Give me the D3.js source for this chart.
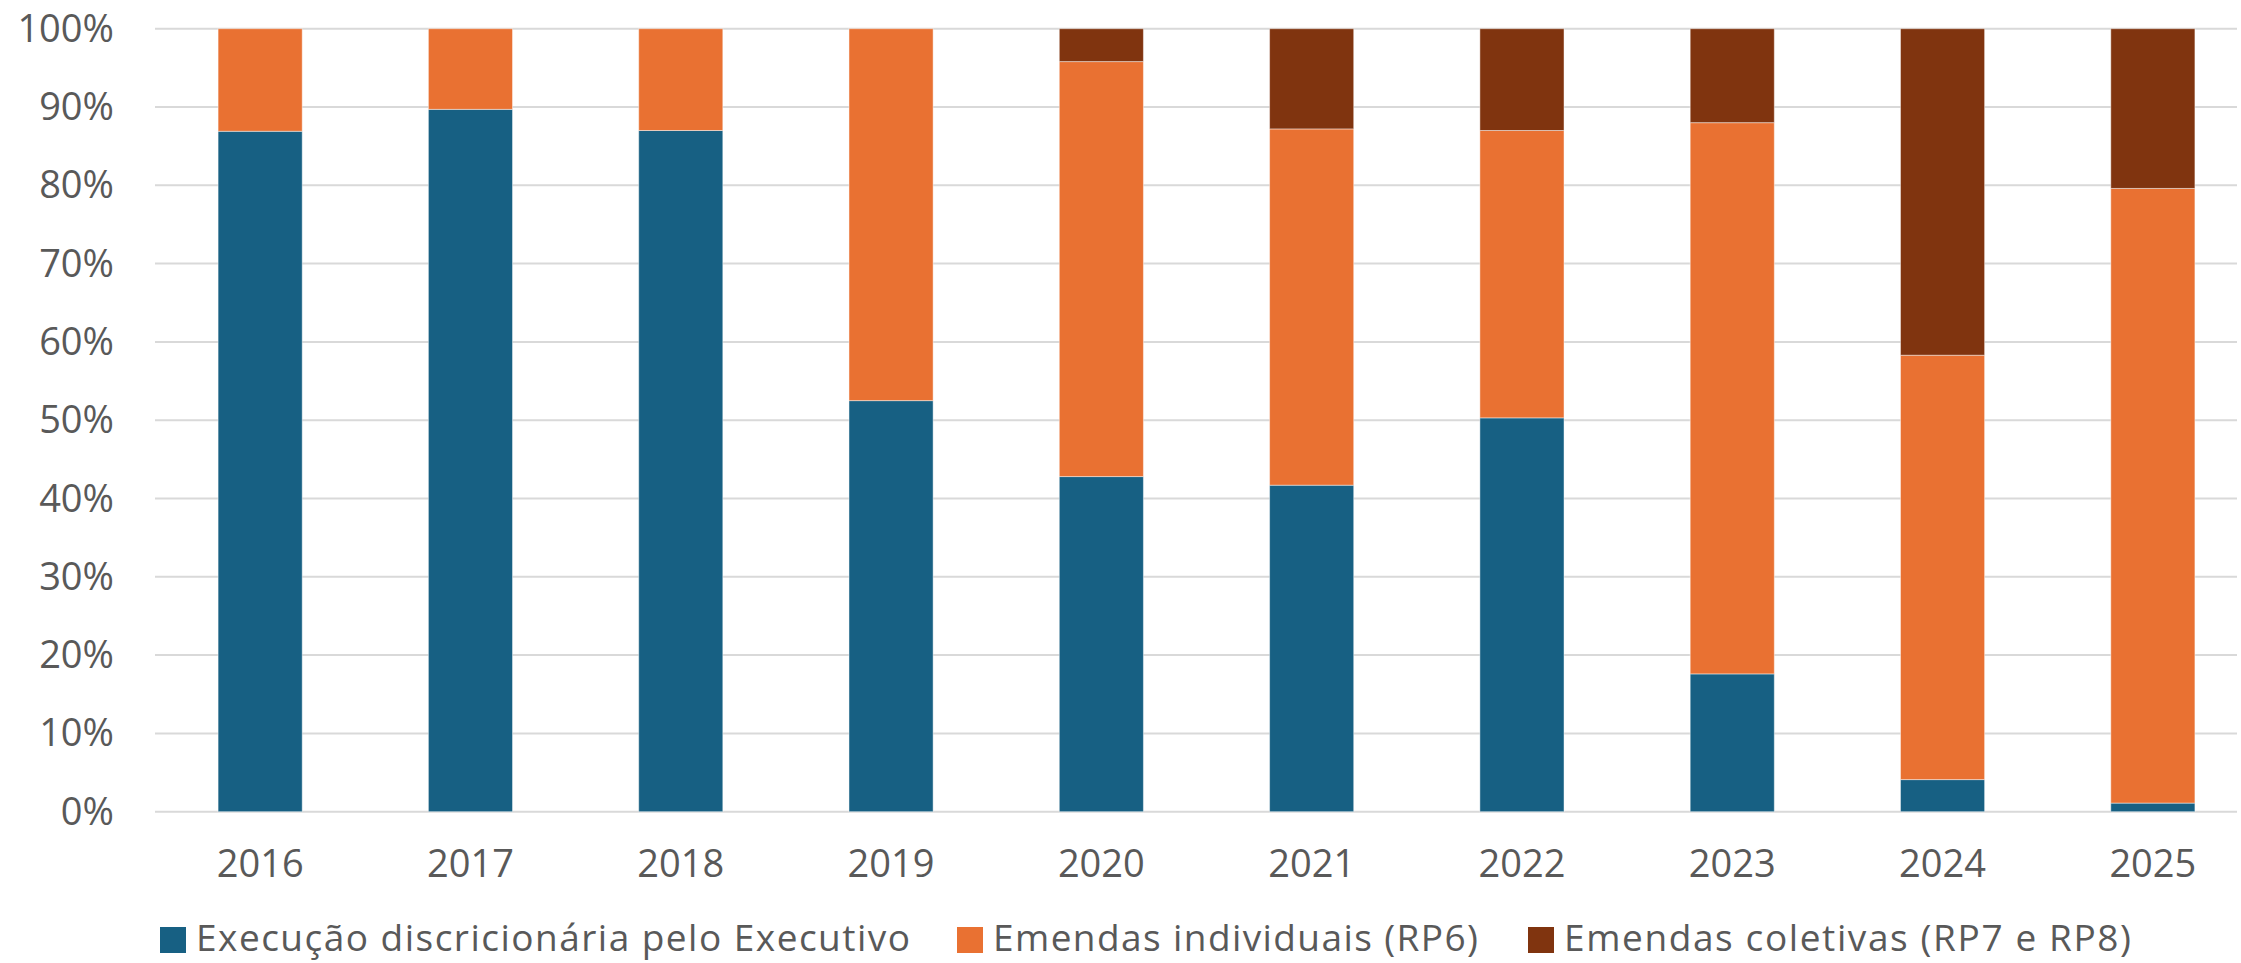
<!DOCTYPE html>
<html>
<head>
<meta charset="utf-8">
<script src="https://cdn.jsdelivr.net/npm/d3@7"></script>
<style>
  body { margin: 0; background: #fff; }
  text { font-family: "Open Sans", "Liberation Sans", sans-serif; fill: #595959; }
</style>
</head>
<body>
<svg id="chart"></svg>
<script>
// years and shares (%)
const years = ["2016", "2017", "2018", "2019", "2020", "2021", "2022", "2023", "2024", "2025"];
const executivo = [86.9, 89.7, 87.0, 52.5, 42.8, 41.7, 50.3, 17.6, 4.1, 1.1];
const individuais = [13.1, 10.3, 13.0, 47.5, 53.0, 45.5, 36.7, 70.4, 54.2, 78.5];
const coletivas = [0, 0, 0, 0, 4.2, 12.8, 13.0, 12.0, 41.7, 20.4];
const seriesNames = ["Execução discricionária pelo Executivo", "Emendas individuais (RP6)", "Emendas coletivas (RP7 e RP8)"];
const yTicks = [0, 10, 20, 30, 40, 50, 60, 70, 80, 90, 100];

var size = { width: 2241, height: 963 };
var margin = { top: 28.7, right: 4, bottom: 151.3, left: 155 };
var colors = ["#176083", "#E97132", "#80340F"];

var svg = d3.select("#chart")
    .attr("width", size.width)
    .attr("height", size.height);

// Excel leaves the last category slot running past the gridlines
var x = d3.scaleBand()
    .domain(years)
    .range([margin.left, 2258])
    .paddingInner(0.6)
    .paddingOuter(0.3);

var y = d3.scaleLinear()
    .domain([0, 100])
    .range([size.height - margin.bottom, margin.top]);

// gridlines
svg.append("g")
    .selectAll("line")
    .data(yTicks)
    .enter()
    .append("line")
    .attr("x1", margin.left)
    .attr("x2", size.width - margin.right)
    .attr("y1", d => y(d))
    .attr("y2", d => y(d))
    .attr("stroke", "#d9d9d9")
    .attr("stroke-width", 2);

// y labels
var yAxis = svg.append("g")
    .attr("transform", "translate(114,0)")
    .call(d3.axisLeft(y).tickValues(yTicks).tickFormat(d => d + "%").tickSize(0).tickPadding(0));
yAxis.select(".domain").remove();
yAxis.selectAll("text")
    .attr("font-size", 38)
    .attr("dy", "0.33em")
    .style("font-family", null);

// x labels
var xAxis = svg.append("g")
    .attr("transform", "translate(0," + y(0) + ")")
    .call(d3.axisBottom(x).tickSize(0).tickPadding(38));
xAxis.select(".domain").remove();
xAxis.selectAll("text")
    .attr("font-size", 38)
    .style("font-family", null);

// stacked bars
var table = years.map((yr, i) => ({ year: yr, a: executivo[i], b: individuais[i], c: coletivas[i] }));
var stacked = d3.stack().keys(["a", "b", "c"])(table);

svg.append("g")
    .selectAll("g")
    .data(stacked)
    .enter()
    .append("g")
    .attr("fill", (d, i) => colors[i])
    .selectAll("rect")
    .data(d => d)
    .enter()
    .filter(d => d[1] - d[0] > 0)
    .append("rect")
    .attr("x", d => x(d.data.year))
    .attr("width", x.bandwidth())
    .attr("y", d => y(d[1]))
    .attr("height", d => y(d[0]) - y(d[1]))
    .attr("stroke", "#ffffff")
    .attr("stroke-opacity", 0.45)
    .attr("stroke-width", 1);

// legend: the reference font runs wider than what is installed, so stretch to its widths
var legendStart = [160, 957, 1528];
var legendTextWidth = [714, 485, 567];
var items = svg.append("g")
    .selectAll("g")
    .data(seriesNames)
    .enter()
    .append("g")
    .attr("transform", (d, i) => "translate(" + legendStart[i] + ",0)");
items.append("rect")
    .attr("width", 26)
    .attr("height", 26)
    .attr("y", 927)
    .attr("fill", (d, i) => colors[i]);
items.append("text")
    .attr("x", 36)
    .attr("y", 951)
    .attr("font-size", 37)
    .attr("textLength", (d, i) => legendTextWidth[i])
    .attr("lengthAdjust", "spacing")
    .text(d => d);
</script>
</body>
</html>
